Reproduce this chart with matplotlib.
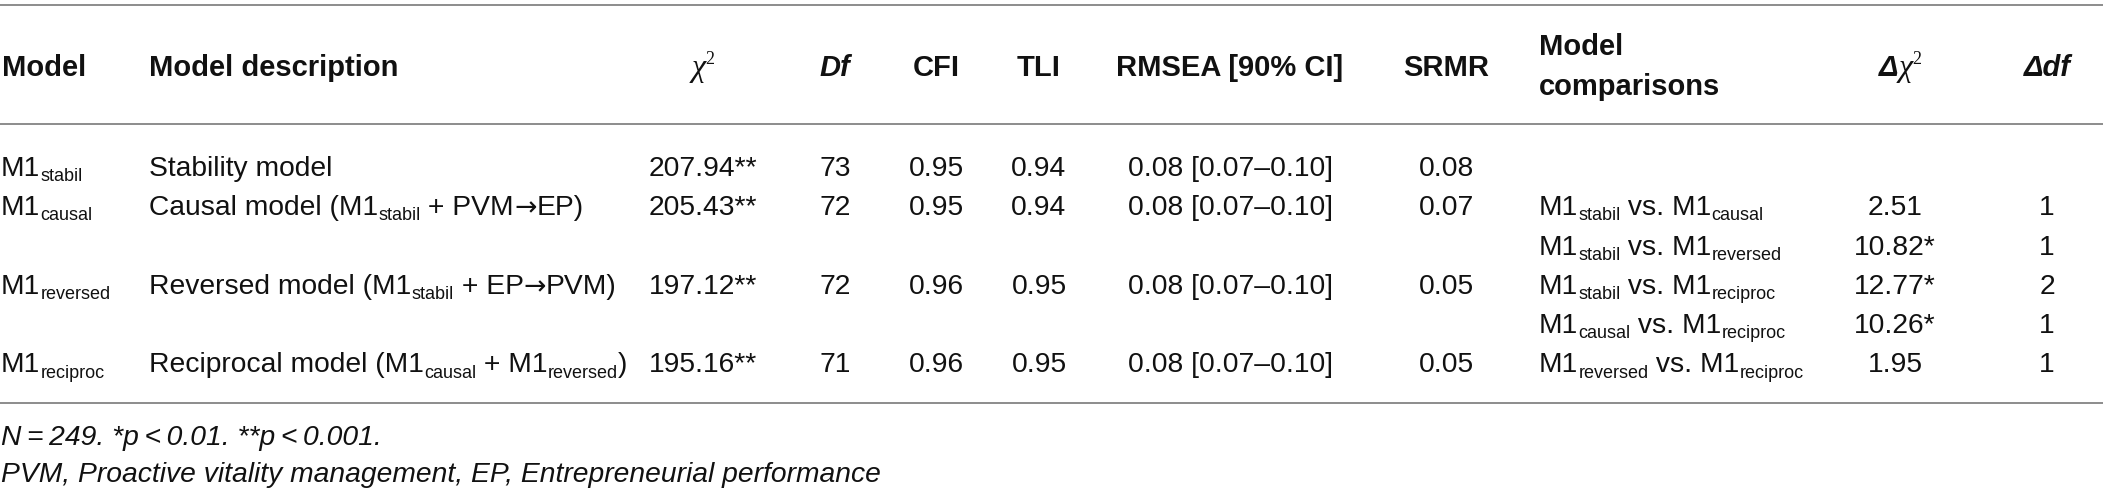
import re
import matplotlib.pyplot as plt

SANS = ['Liberation Sans', 'DejaVu Sans']
SERIF = ['Liberation Serif', 'DejaVu Serif']
plt.rcParams['font.family'] = SANS

# table content (subscripts written as _{...})
models = ['M1_{stabil}', 'M1_{causal}', 'M1_{reversed}', 'M1_{reciproc}']
descriptions = ['Stability model',
                'Causal model (M1_{stabil} + PVM\u2192EP)',
                'Reversed model (M1_{stabil} + EP\u2192PVM)',
                'Reciprocal model (M1_{causal} + M1_{reversed})']
chi2 = ['207.94**', '205.43**', '197.12**', '195.16**']
df = ['73', '72', '72', '71']
cfi = ['0.95', '0.95', '0.96', '0.96']
tli = ['0.94', '0.94', '0.95', '0.95']
rmsea = ['0.08 [0.07\u20130.10]', '0.08 [0.07\u20130.10]',
         '0.08 [0.07\u20130.10]', '0.08 [0.07\u20130.10]']
srmr = ['0.08', '0.07', '0.05', '0.05']
model_slots = [0, 1, 3, 5]

comparisons = ['M1_{stabil} vs. M1_{causal}',
               'M1_{stabil} vs. M1_{reversed}',
               'M1_{stabil} vs. M1_{reciproc}',
               'M1_{causal} vs. M1_{reciproc}',
               'M1_{reversed} vs. M1_{reciproc}']
delta_chi2 = ['2.51', '10.82*', '12.77*', '10.26*', '1.95']
delta_df = ['1', '1', '2', '1', '1']
comp_slots = [1, 2, 3, 4, 5]

notes = ['N\u2009=\u2009249. *p\u2009<\u20090.01. **p\u2009<\u20090.001.',
         'PVM, Proactive vitality management, EP, Entrepreneurial performance']

BODY = 20.3
HEAD = 21

fig = plt.figure(figsize=(21.03, 4.92), dpi=100)
ax = fig.add_axes([0, 0, 1, 1])
ax.set_xlim(0, 2103)
ax.set_ylim(492, 0)
ax.axis('off')
renderer = fig.canvas.get_renderer()


def width_of(s, **kw):
    a = ax.text(0, 0, '|' + s + '|', **kw)
    b = ax.text(0, 0, '||', **kw)
    w = a.get_window_extent(renderer).width - b.get_window_extent(renderer).width
    a.remove()
    b.remove()
    return w


def runs_from(s, size=BODY, **kw):
    out = []
    for part in re.split(r'([_^]\{[^}]*\}|\u2192)', s):
        if not part:
            continue
        if part == '\u2192':
            # the arrow in Liberation Sans is tiny, DejaVu's is closer
            out.append((part, dict(kw, fontsize=size * 0.95, family=['DejaVu Sans']), 0))
        elif part[0] in '_^' and part[1:2] == '{':
            dy = 5 if part[0] == '_' else -10
            out.append((part[2:-1], dict(kw, fontsize=size * 0.64), dy))
        else:
            out.append((part, dict(kw, fontsize=size), 0))
    return out


def draw_runs(x, y, runs, ha='left'):
    widths = [width_of(t, **k) for t, k, _ in runs]
    x0 = x - sum(widths) / 2 if ha == 'center' else x
    for (t, k, dy), w in zip(runs, widths):
        ax.text(x0, y + dy, t, va='baseline', ha='left', color='#111111', **k)
        x0 += w


# rules
for yl in [5, 124, 403]:
    ax.plot([0, 2103], [yl, yl], color='#8c8c8c', lw=1.4, solid_capstyle='butt')

# header
hb = dict(fontweight='bold')
hbi = dict(fontweight='bold', fontstyle='italic')
chi = dict(fontsize=23, fontstyle='italic', family=SERIF)
sup = dict(fontsize=13, family=SERIF)
head_y = 76
draw_runs(2, head_y, runs_from('Model', HEAD, **hb))
draw_runs(149, head_y, runs_from('Model description', HEAD, **hb))
draw_runs(703, head_y, [('\u03c7', chi, 0), ('2', sup, -12)], ha='center')
draw_runs(835, head_y, runs_from('Df', HEAD, **hbi), ha='center')
draw_runs(936, head_y, runs_from('CFI', HEAD, **hb), ha='center')
draw_runs(1039, head_y, runs_from('TLI', HEAD, **hb), ha='center')
draw_runs(1230, head_y, runs_from('RMSEA [90% CI]', HEAD, **hb), ha='center')
draw_runs(1446, head_y, runs_from('SRMR', HEAD, **hb), ha='center')
draw_runs(1539, 55, runs_from('Model', HEAD, **hb))
draw_runs(1539, 95, runs_from('comparisons', HEAD, **hb))
draw_runs(1900, head_y, [('\u0394', dict(fontsize=HEAD, **hbi), 0),
                         ('\u03c7', chi, 0), ('2', sup, -12)], ha='center')
draw_runs(2047, head_y, runs_from('\u0394df', HEAD, **hbi), ha='center')

# body
def base_y(slot):
    return 176 + 39.3 * slot

for i, s in enumerate(model_slots):
    y = base_y(s)
    draw_runs(1, y, runs_from(models[i]))
    draw_runs(149, y, runs_from(descriptions[i]))
    draw_runs(703, y, runs_from(chi2[i]), ha='center')
    draw_runs(835, y, runs_from(df[i]), ha='center')
    draw_runs(936, y, runs_from(cfi[i]), ha='center')
    draw_runs(1039, y, runs_from(tli[i]), ha='center')
    draw_runs(1230, y, runs_from(rmsea[i]), ha='center')
    draw_runs(1446, y, runs_from(srmr[i]), ha='center')

for i, s in enumerate(comp_slots):
    y = base_y(s)
    draw_runs(1539, y, runs_from(comparisons[i]))
    draw_runs(1895, y, runs_from(delta_chi2[i]), ha='center')
    draw_runs(2047, y, runs_from(delta_df[i]), ha='center')

# notes
draw_runs(1, 445, runs_from(notes[0], fontstyle='italic'))
draw_runs(1, 482, runs_from(notes[1], fontstyle='italic'))

fig.savefig('out.png', dpi=100)
